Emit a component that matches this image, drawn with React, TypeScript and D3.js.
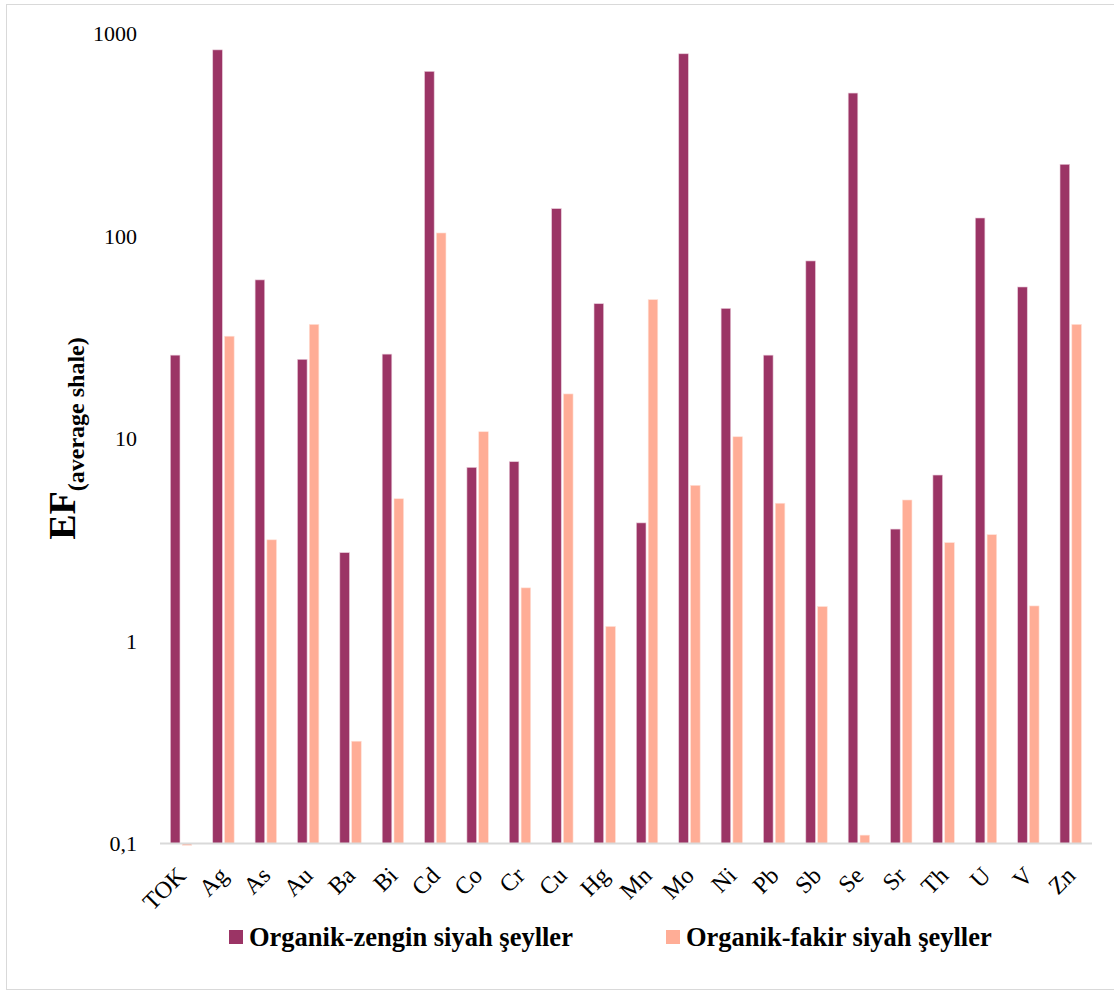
import React from "react";
import * as d3 from "d3";

// Element enrichment factors relative to average shale
const categories = ["TOK", "Ag", "As", "Au", "Ba", "Bi", "Cd", "Co", "Cr", "Cu", "Hg", "Mn", "Mo", "Ni", "Pb", "Sb", "Se", "Sr", "Th", "U", "V", "Zn"];
const richShale = [25.8, 830, 60.7, 24.6, 2.73, 26.1, 650, 7.2, 7.68, 136.5, 46.3, 3.83, 794, 43.9, 25.8, 75.3, 508, 3.57, 6.6, 122.7, 56, 226];
const poorShale = [0.098, 32.0, 3.16, 36.6, 0.32, 5.04, 103.5, 10.8, 1.83, 16.6, 1.18, 48.5, 5.87, 10.2, 4.79, 1.48, 0.11, 4.97, 3.06, 3.35, 1.49, 36.6];
const yTicks = [0.1, 1, 10, 100, 1000];
const yTickLabels = ["0,1", "1", "10", "100", "1000"];
const referenceLevel = 1.58;
const seriesNames = ["Organik-zengin siyah şeyller", "Organik-fakir siyah şeyller"];

const W = 1114;
const H = 990;
const left = 160;
const right = 1092;
const top = 33.5;
const bottom = 843.5;
const colors = ["#9b3465", "#ffad96"];
const serif = "'Liberation Serif', 'Times New Roman', serif";

export default function App() {
  const x = d3.scaleBand<string>().domain(categories).range([left, right]);
  const y = d3.scaleLog().domain([0.1, 1000]).range([bottom, top]);
  const bw = 9.6;
  const series = [richShale, poorShale];
  const offsets = [-10.8, 1.0];

  return (
    <svg width={W} height={H} style={{ position: "absolute", left: 0, top: 0, background: "#fff" }}>
      <defs>
        <filter id="lineShadow" x="-5%" y="-400%" width="110%" height="900%">
          <feDropShadow dx="0" dy="3" stdDeviation="2" floodColor="#000" floodOpacity="0.35" />
        </filter>
      </defs>
      <rect x={6.5} y={4.5} width={W + 20} height={985} fill="#fff" stroke="#d9d9d9" strokeWidth={1} />

      {/* bars */}
      {series.map((vals, si) =>
        vals.map((v, i) => {
          const cx = (x(categories[i]) as number) + x.bandwidth() / 2;
          const y0 = y(0.1);
          const yv = y(v);
          return (
            <rect
              key={`${si}-${i}`}
              x={cx + offsets[si]}
              y={Math.min(y0, yv)}
              width={bw}
              height={Math.max(Math.abs(y0 - yv), 1)}
              fill={colors[si]}
              stroke={si === 0 ? "#e8c9d8" : "#ffe2d8"}
              strokeWidth={0.6}
            />
          );
        })
      )}

      {/* category axis */}
      <line x1={left} x2={right} y1={bottom} y2={bottom} stroke="#d9d9d9" strokeWidth={2} />

      {/* reference level */}
      <line
        x1={151}
        x2={right}
        y1={y(referenceLevel)}
        y2={y(referenceLevel)}
        stroke="#111"
        strokeWidth={1.5}
        filter="url(#lineShadow)"
      />

      {/* y tick labels */}
      {yTicks.map((t, i) => (
        <text
          key={t}
          x={137}
          y={y(t)}
          dy="0.35em"
          textAnchor="end"
          fontFamily={serif}
          fontSize={22}
          fill="#000"
        >
          {yTickLabels[i]}
        </text>
      ))}

      {/* x tick labels */}
      {categories.map((c) => {
        const cx = (x(c) as number) + x.bandwidth() / 2;
        return (
          <text
            key={c}
            transform={`translate(${cx + 6},${877}) rotate(-45)`}
            textAnchor="end"
            fontFamily={serif}
            fontSize={24}
            fill="#000"
          >
            {c}
          </text>
        );
      })}

      {/* y axis title */}
      <text
        transform={`translate(75,${(top + bottom) / 2}) rotate(-90)`}
        textAnchor="middle"
        fontFamily={serif}
        fontWeight="bold"
        fill="#000"
      >
        <tspan fontSize={38}>EF</tspan>
        <tspan fontSize={24} dy={9}>(average shale)</tspan>
      </text>

      {/* legend */}
      {seriesNames.map((name, i) => {
        const lx = i === 0 ? 229 : 666;
        return (
          <g key={name}>
            <rect x={lx} y={930} width={14} height={14} fill={colors[i]} />
            <text x={lx + 20} y={946} fontFamily={serif} fontWeight="bold" fontSize={26.5} fill="#000">
              {name}
            </text>
          </g>
        );
      })}
    </svg>
  );
}
